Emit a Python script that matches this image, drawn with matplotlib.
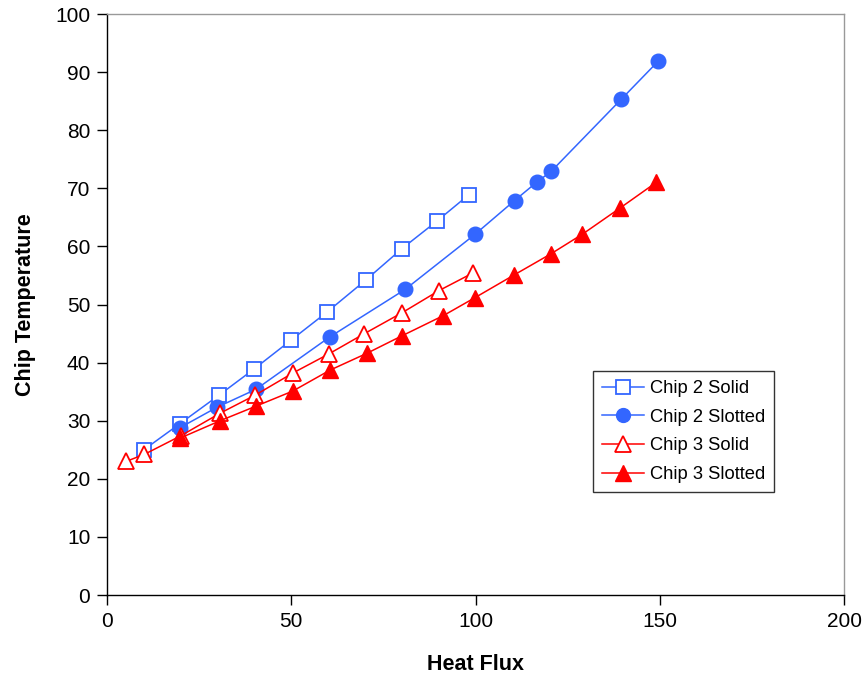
import matplotlib
matplotlib.use('Agg')
import matplotlib.pyplot as plt

plt.rcParams['font.family'] = ['Liberation Sans', 'DejaVu Sans']

# Chip 2, solid heat sink
c2_solid_x = [10, 19.8, 30.4, 39.9, 50.0, 59.7, 70.2, 80.0, 89.6, 98.2]
c2_solid_y = [25.0, 29.5, 34.4, 38.9, 43.9, 48.7, 54.2, 59.6, 64.4, 68.9]

# Chip 2, slotted heat sink
c2_slot_x = [19.8, 29.8, 40.4, 60.4, 80.9, 99.9, 110.6, 116.7, 120.5, 139.5, 149.6]
c2_slot_y = [28.8, 32.3, 35.4, 44.4, 52.6, 62.1, 67.9, 71.1, 72.9, 85.3, 91.9]

# Chip 3, solid heat sink
c3_solid_x = [5.2, 10.1, 20.0, 30.7, 40.2, 50.4, 60.2, 69.6, 80.1, 90.1, 99.2]
c3_solid_y = [23.0, 24.2, 27.4, 31.3, 34.4, 38.2, 41.5, 44.9, 48.6, 52.4, 55.4]

# Chip 3, slotted heat sink
c3_slot_x = [19.8, 30.7, 40.4, 50.4, 60.5, 70.5, 80.0, 91.3, 99.9, 110.5, 120.4, 129.0, 139.2, 149.0]
c3_slot_y = [27.0, 30.0, 32.5, 35.1, 38.7, 41.6, 44.6, 48.1, 51.2, 55.1, 58.7, 62.1, 66.6, 71.0]

blue = '#3366FF'
red = '#FF0000'

fig = plt.figure(figsize=(8.68, 6.83), dpi=100)
ax = fig.add_axes([0.1233, 0.1288, 0.8491, 0.8507])

ax.plot(c2_solid_x, c2_solid_y, color=blue, lw=1.1, marker='s', ms=10,
        mfc='white', mec=blue, mew=1.3, label='Chip 2 Solid')
ax.plot(c2_slot_x, c2_slot_y, color=blue, lw=1.1, marker='o', ms=10.5,
        mfc=blue, mec=blue, label='Chip 2 Slotted')
ax.plot(c3_solid_x, c3_solid_y, color=red, lw=1.1, marker='^', ms=11.5,
        mfc='white', mec=red, mew=1.3, label='Chip 3 Solid')
ax.plot(c3_slot_x, c3_slot_y, color=red, lw=1.1, marker='^', ms=11.5,
        mfc=red, mec=red, label='Chip 3 Slotted')

ax.set_xlim(0, 200)
ax.set_ylim(0, 100)
ax.set_xticks([0, 50, 100, 150, 200])
ax.set_yticks(range(0, 101, 10))
ax.tick_params(direction='out', length=7, width=1, labelsize=15, pad=5)

for side in ['top', 'right']:
    ax.spines[side].set_color('#999999')
    ax.spines[side].set_linewidth(1)
for side in ['left', 'bottom']:
    ax.spines[side].set_color('black')
    ax.spines[side].set_linewidth(1)

ax.set_xlabel('Heat Flux', fontsize=15.5, fontweight='bold', labelpad=17)
ax.set_ylabel('Chip Temperature', fontsize=15.5, fontweight='bold', labelpad=14)

leg = ax.legend(loc='upper left', bbox_to_anchor=(0.659, 0.386), borderaxespad=0,
                fontsize=13.2, frameon=True, fancybox=False, edgecolor='black',
                handlelength=2.3, handletextpad=0.3, labelspacing=0.64,
                borderpad=0.5, markerscale=0.95)
leg.get_frame().set_linewidth(1)

fig.savefig('out.png', dpi=100)
